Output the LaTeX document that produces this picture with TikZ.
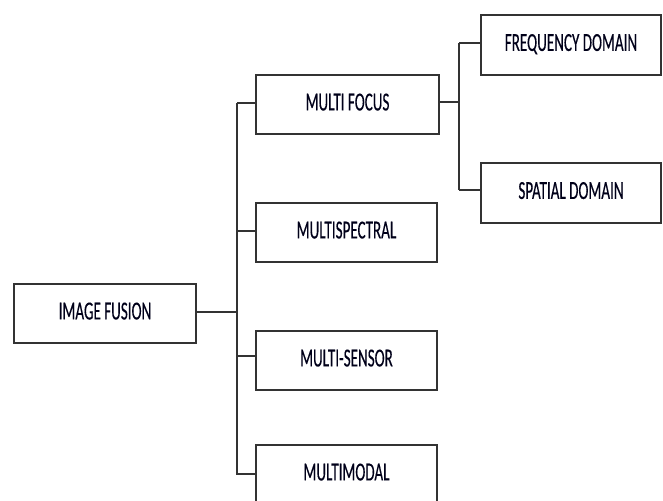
\documentclass[tikz,border=0pt]{standalone}
\usepackage{fontspec}
\setmainfont[FakeStretch=0.58,FakeBold=0.3]{Carlito}
\begin{document}
\begin{tikzpicture}[x=1pt,y=1pt,
  box/.style={draw=black!80, line width=2pt, minimum width=182pt, minimum height=59pt,
    inner sep=0pt, text depth=5pt, text=black!90!blue, font=\fontsize{26}{29}\selectfont},
  link/.style={draw=black!80, line width=2pt}]
\useasboundingbox (0,0) rectangle (663,500);
\clip (0,0) rectangle (663,500);
\node[box] (IF) at (105,186.5) {IMAGE FUSION};
\node[box, minimum width=183pt] (MF) at (347.5,395.5) {MULTI FOCUS};
\node[box, minimum width=181pt] (MS) at (346.5,267.5) {MULTISPECTRAL};
\node[box, minimum width=181pt] (MSE) at (346.5,139.5) {MULTI-SENSOR};
\node[box, minimum width=181pt] (MM) at (346.5,25.5) {MULTIMODAL};
\node[box, minimum width=180pt, minimum height=60pt] (FD) at (571,455) {FREQUENCY DOMAIN};
\node[box, minimum width=180pt, minimum height=60pt] (SD) at (571,307) {SPATIAL DOMAIN};
\coordinate (T1top) at (237,397);
\coordinate (T1bot) at (237,25);
\coordinate (T2top) at (459,457);
\coordinate (T2bot) at (459,310);
\draw[link] (T1top) -- (T1bot);
\draw[link] (T2top) -- (T2bot);
\draw[link] ([yshift=1pt]IF.east) -- ([yshift=1pt]IF.east -| T1top);
\draw[link] ([yshift=1.5pt]MF.west) -- ([yshift=1.5pt]MF.west -| T1top);
\draw[link] ([yshift=1.5pt]MS.west) -- ([yshift=1.5pt]MS.west -| T1top);
\draw[link] ([yshift=4pt]MSE.west) -- ([yshift=4pt]MSE.west -| T1top);
\draw[link] (MM.west) -- (MM.west -| T1top);
\draw[link] ([yshift=2pt]MF.east) -- ([yshift=2pt]MF.east -| T2top);
\draw[link] ([yshift=2pt]FD.west) -- ([yshift=2pt]FD.west -| T2top);
\draw[link] ([yshift=3pt]SD.west) -- ([yshift=3pt]SD.west -| T2top);
\end{tikzpicture}
\end{document}
